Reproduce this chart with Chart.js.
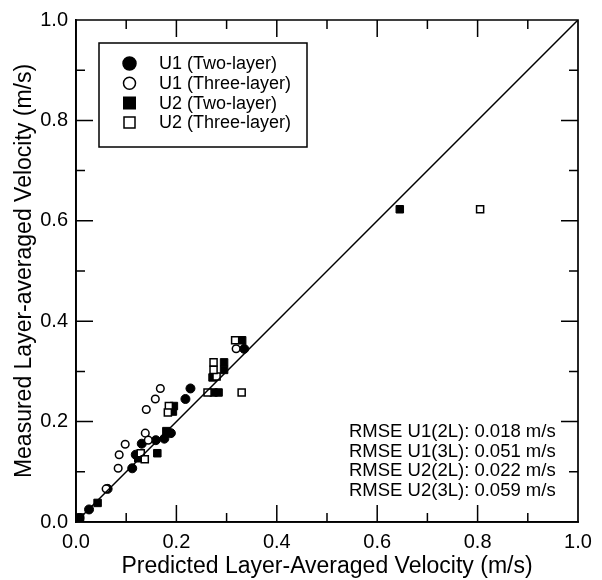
<!DOCTYPE html>
<html>
<head>
<meta charset="utf-8">
<script src="https://cdn.jsdelivr.net/npm/chart.js@4/dist/chart.umd.min.js"></script>
<style>
html,body{margin:0;padding:0;background:#fff;}
#wrap{width:602px;height:580px;}
</style>
</head>
<body>
<div id="wrap"><canvas id="c" width="602" height="580"></canvas></div>
<script>
// ---- data ----
const u1TwoX = [0.007, 0.026, 0.063, 0.112, 0.119, 0.131, 0.159, 0.176, 0.189, 0.218, 0.228, 0.335];
const u1TwoY = [0.008, 0.025, 0.066, 0.107, 0.134, 0.156, 0.163, 0.166, 0.177, 0.245, 0.266, 0.345];
const u1ThreeX = [0.060, 0.084, 0.086, 0.098, 0.138, 0.144, 0.140, 0.158, 0.168, 0.319];
const u1ThreeY = [0.066, 0.107, 0.134, 0.155, 0.177, 0.163, 0.224, 0.245, 0.266, 0.345];
const u2TwoX = [0.008, 0.043, 0.124, 0.162, 0.180, 0.195, 0.193, 0.272, 0.274, 0.284, 0.295, 0.295, 0.331, 0.645];
const u2TwoY = [0.009, 0.038, 0.127, 0.137, 0.181, 0.231, 0.220, 0.288, 0.258, 0.258, 0.303, 0.318, 0.362, 0.623];
const u2ThreeX = [0.129, 0.137, 0.185, 0.183, 0.280, 0.274, 0.274, 0.262, 0.330, 0.317, 0.805];
const u2ThreeY = [0.137, 0.125, 0.231, 0.218, 0.290, 0.303, 0.318, 0.258, 0.258, 0.362, 0.623];
const lineX = [0, 1];
const lineY = [0, 1];
const seriesNames = ['U1 (Two-layer)', 'U1 (Three-layer)', 'U2 (Two-layer)', 'U2 (Three-layer)'];
const rmseLines = ['RMSE U1(2L): 0.018 m/s', 'RMSE U1(3L): 0.051 m/s', 'RMSE U2(2L): 0.022 m/s', 'RMSE U2(3L): 0.059 m/s'];
const xTitle = 'Predicted Layer-Averaged Velocity (m/s)';
const yTitle = 'Measured Layer-averaged Velocity (m/s)';

const FONT = '"Liberation Sans", Arial, Helvetica, sans-serif';
const pts = (xs, ys) => xs.map((x, i) => ({x: x, y: ys[i]}));

// inward ticks on four sides, frame, legend and RMSE text
const decor = {
  id: 'decor',
  afterDraw(chart) {
    const ctx = chart.ctx;
    const a = chart.chartArea;
    const xs = chart.scales.x, ys = chart.scales.y;
    ctx.save();
    ctx.strokeStyle = '#000';
    ctx.lineWidth = 1.7;
    ctx.beginPath();
    ctx.rect(a.left, a.top, a.right - a.left, a.bottom - a.top);
    ctx.stroke();
    ctx.lineWidth = 1.5;
    ctx.beginPath();
    for (let i = 1; i < 10; i++) {
      const v = i / 10;
      const len = (i % 2 === 0) ? 17 : 9;
      const px = xs.getPixelForValue(v);
      const py = ys.getPixelForValue(v);
      ctx.moveTo(px, a.bottom); ctx.lineTo(px, a.bottom - len);
      ctx.moveTo(px, a.top); ctx.lineTo(px, a.top + len);
      ctx.moveTo(a.left, py); ctx.lineTo(a.left + len, py);
      ctx.moveTo(a.right, py); ctx.lineTo(a.right - len, py);
    }
    ctx.stroke();

    // legend box
    const bx = 99, by = 43, bw = 208, bh = 104;
    ctx.fillStyle = '#fff';
    ctx.fillRect(bx, by, bw, bh);
    ctx.lineWidth = 1.5;
    ctx.strokeRect(bx, by, bw, bh);
    const rowsY = [63.5, 83.3, 103, 122.5];
    ctx.font = '18px ' + FONT;
    ctx.textBaseline = 'middle';
    ctx.textAlign = 'left';
    for (let i = 0; i < 4; i++) {
      const ds = chart.data.datasets[i];
      const mx = 129.5, my = rowsY[i];
      ctx.lineWidth = 1.5;
      ctx.strokeStyle = '#000';
      ctx.fillStyle = ds.backgroundColor;
      ctx.beginPath();
      if (ds.pointStyle === 'circle') {
        ctx.arc(mx, my, i === 0 ? 6.5 : 6, 0, Math.PI * 2);
      } else {
        const s = i === 2 ? 11.5 : 11;
        ctx.rect(mx - s / 2, my - s / 2, s, s);
      }
      ctx.fill();
      ctx.stroke();
      ctx.fillStyle = '#000';
      ctx.fillText(seriesNames[i], 159, my + 1);
    }

    // RMSE text
    ctx.font = '18.5px ' + FONT;
    ctx.fillStyle = '#000';
    const ry = [431, 450.5, 470, 489.5];
    for (let i = 0; i < 4; i++) ctx.fillText(rmseLines[i], 349, ry[i] + 1);
    ctx.restore();
  }
};

new Chart(document.getElementById('c'), {
  type: 'scatter',
  data: {
    datasets: [
      {label: seriesNames[0], data: pts(u1TwoX, u1TwoY), pointStyle: 'circle', pointRadius: 4.5, pointBorderWidth: 1,
       backgroundColor: '#000', borderColor: '#000', order: 4},
      {label: seriesNames[1], data: pts(u1ThreeX, u1ThreeY), pointStyle: 'circle', pointRadius: 3.8, pointBorderWidth: 1.5,
       backgroundColor: '#fff', borderColor: '#000', order: 3},
      {label: seriesNames[2], data: pts(u2TwoX, u2TwoY), pointStyle: 'rect', pointRadius: 5.3, pointBorderWidth: 1,
       backgroundColor: '#000', borderColor: '#000', order: 2},
      {label: seriesNames[3], data: pts(u2ThreeX, u2ThreeY), pointStyle: 'rect', pointRadius: 5.0, pointBorderWidth: 1.5,
       backgroundColor: '#fff', borderColor: '#000', order: 1},
      {type: 'line', label: '1:1', data: pts(lineX, lineY), borderColor: '#000', borderWidth: 1.5,
       pointRadius: 0, fill: false, order: 0}
    ]
  },
  options: {
    responsive: false,
    animation: false,
    devicePixelRatio: 1,
    layout: {padding: {top: 20, right: 24, left: 0, bottom: 0}},
    plugins: {legend: {display: false}, tooltip: {enabled: false}},
    scales: {
      x: {
        type: 'linear', min: 0, max: 1,
        afterFit(s) { s.height = 58; },
        grid: {display: false, drawTicks: false},
        border: {display: true, color: '#000', width: 1.7},
        ticks: {stepSize: 0.2, padding: 8, color: '#000', font: {family: FONT, size: 20},
                maxRotation: 0, callback: v => Number(v).toFixed(1)},
        title: {display: true, text: xTitle, color: '#000', padding: {top: 0, bottom: 0},
                font: {family: FONT, size: 23, lineHeight: 1.2}}
      },
      y: {
        type: 'linear', min: 0, max: 1,
        afterFit(s) { s.width = 76; },
        grid: {display: false, drawTicks: false},
        border: {display: true, color: '#000', width: 1.7},
        ticks: {stepSize: 0.2, padding: 8, color: '#000', font: {family: FONT, size: 20},
                callback: v => Number(v).toFixed(1)},
        title: {display: true, text: yTitle, color: '#000', padding: {top: 11, bottom: 0},
                font: {family: FONT, size: 23, lineHeight: 1.2}}
      }
    }
  },
  plugins: [decor]
});
</script>
</body>
</html>
